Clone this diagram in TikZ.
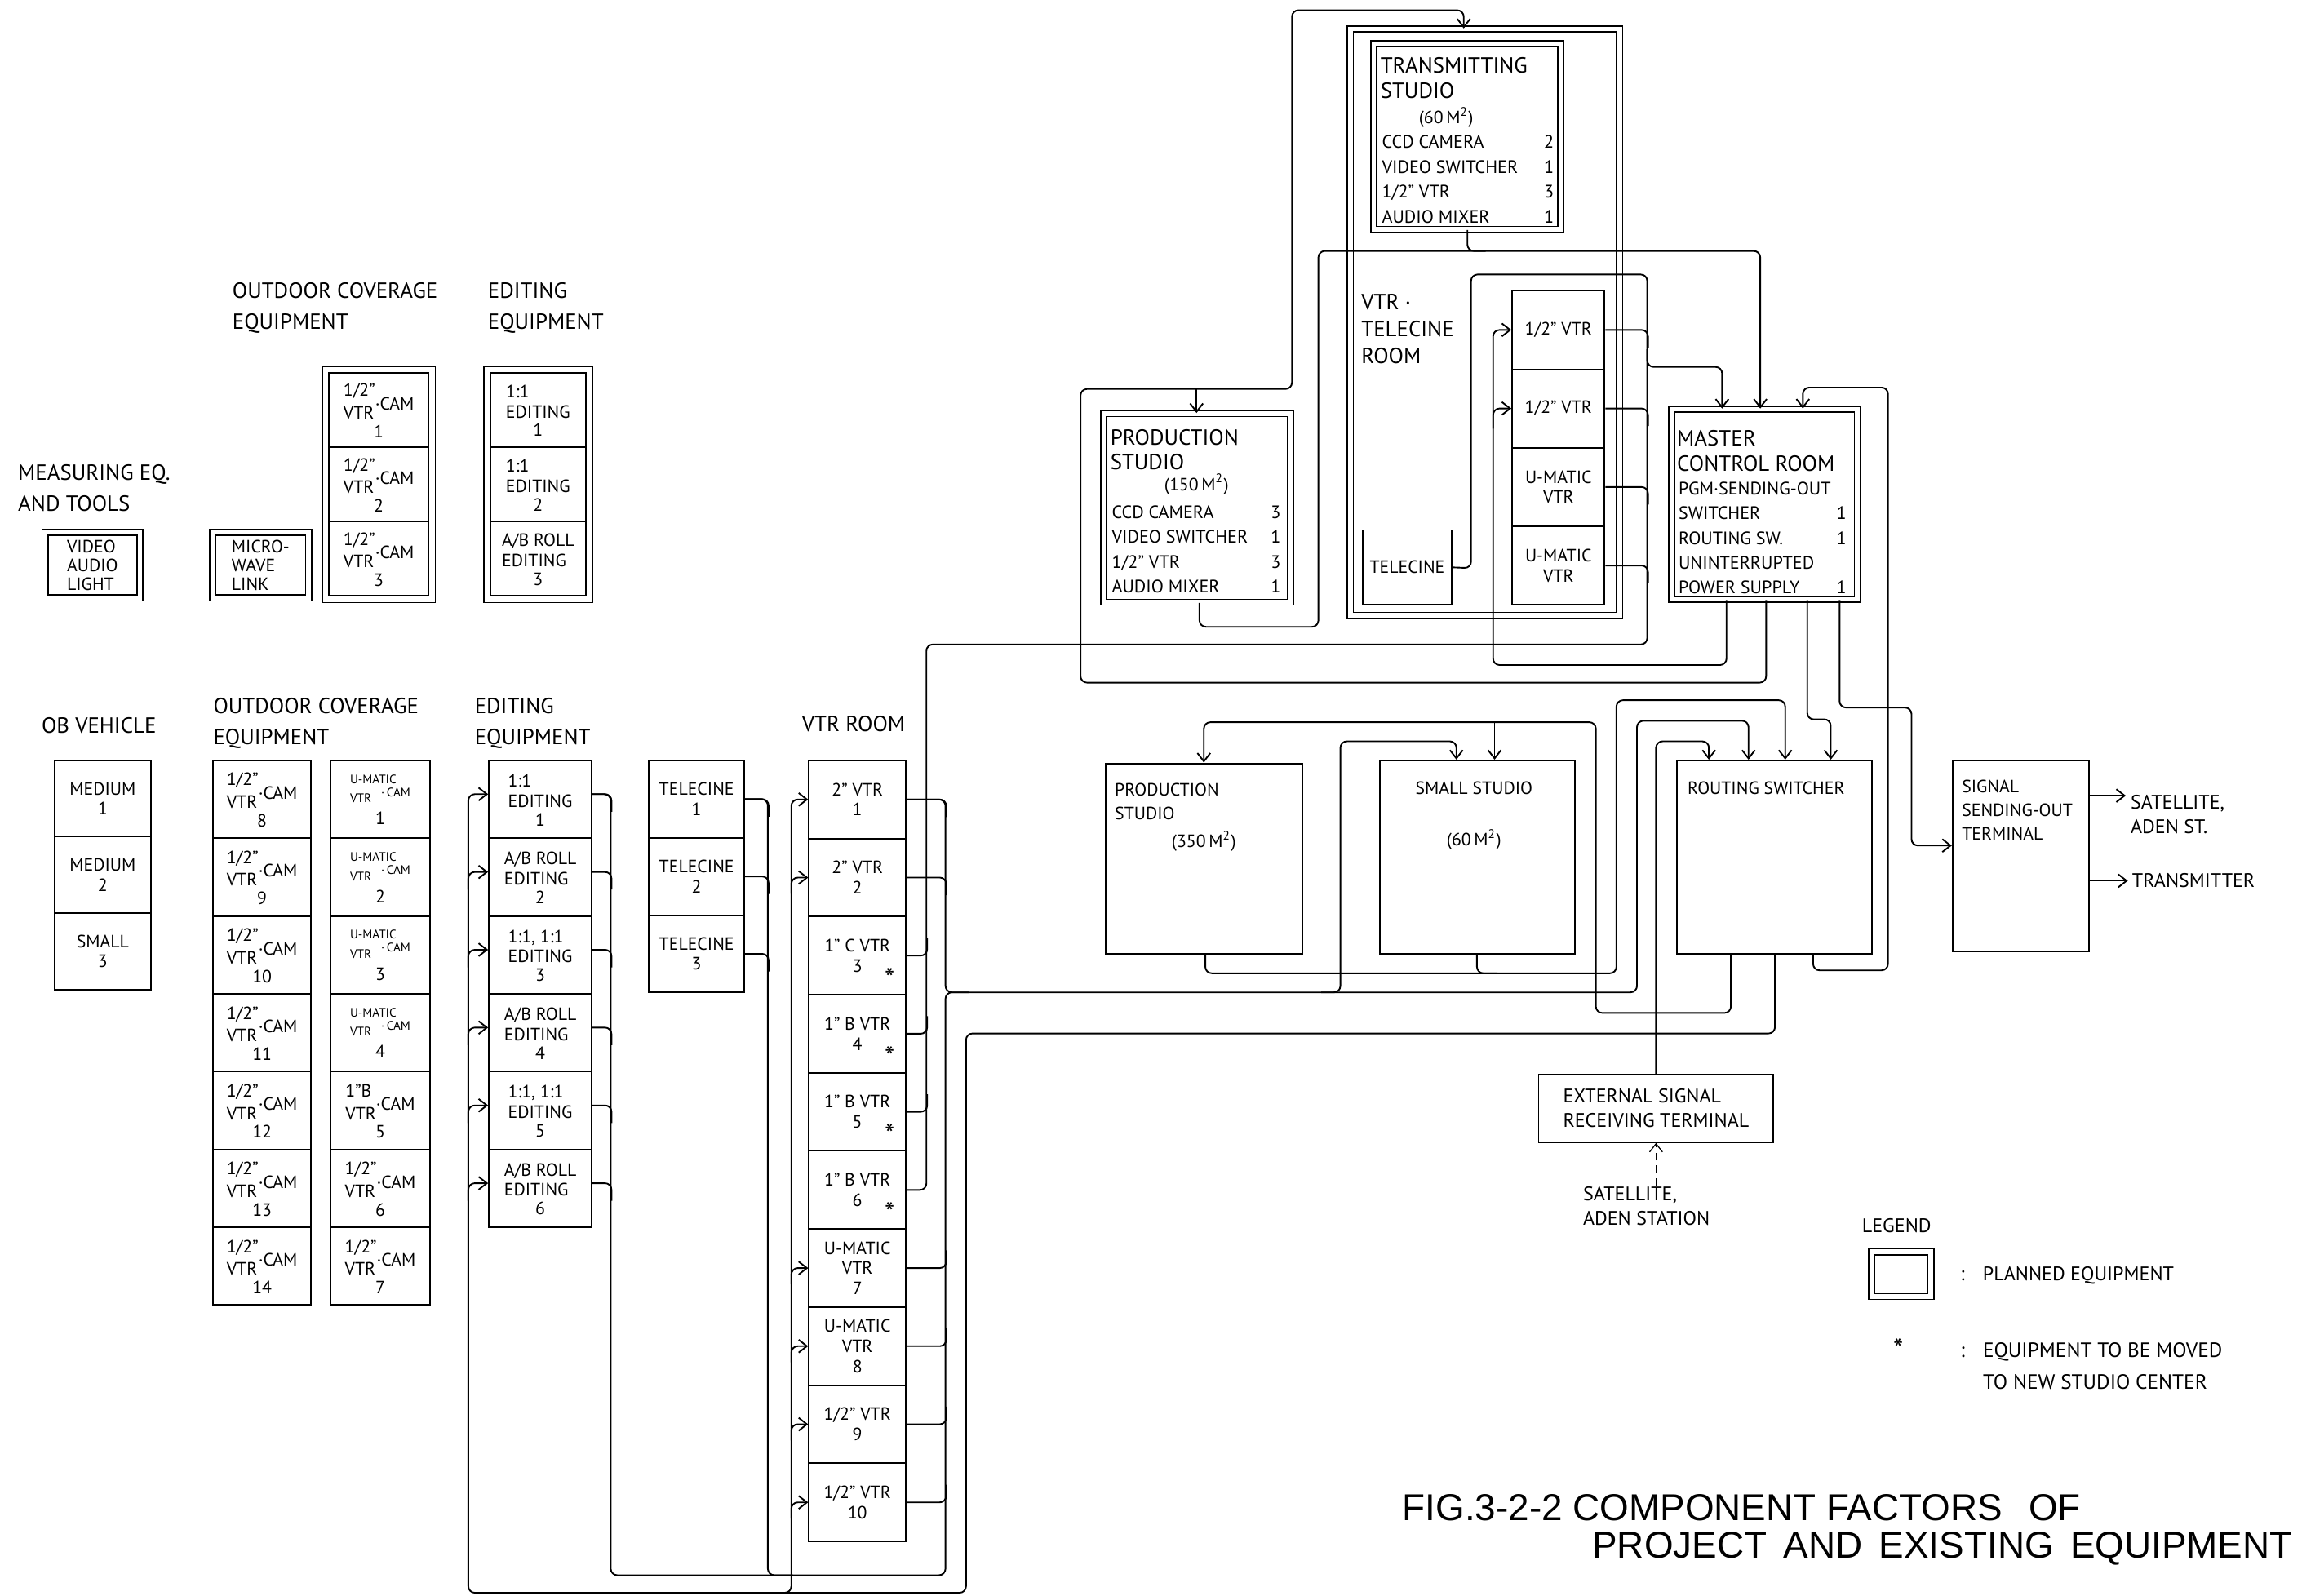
\documentclass[tikz,border=0pt]{standalone}
\usepackage{fontspec}
\setmainfont{PT Sans}
\newfontfamily\titlefont{Liberation Sans}
\usepackage{tikz}
\usetikzlibrary{arrows.meta,fit}
\newcommand\cellfont{\fontsize{6.9}{7.8}\selectfont}
\newcommand\headfont{\fontsize{8.5}{12.2}\selectfont}
\newcommand\boxfont{\fontsize{8.5}{9.6}\selectfont}
\newcommand\roomfont{\fontsize{8.5}{10.4}\selectfont}
\newcommand\tabfont{\fontsize{7}{9.6}\selectfont}
\newcommand\midfont{\fontsize{6.9}{9.2}\selectfont}
\newcommand\extfont{\fontsize{7.6}{9.6}\selectfont}
\newcommand\umfont{\fontsize{4.8}{5.3}\selectfont}
\newcommand\starfont{\fontsize{11}{11}\selectfont}
\newcommand\vcam[2]{\begin{tabular}{@{}l@{}l@{}}#1&\\[-2pt]VTR&\raisebox{3.5pt}{·CAM}\end{tabular}\\[-1pt]#2}
\newcommand\ucam[1]{{\umfont\begin{tabular}{@{}l@{}}U-MATIC\\VTR\hspace{0.8em}\raisebox{2.5pt}{·\,CAM}\end{tabular}}\\[1pt]#1}
\newcommand\edcell[2]{\begin{tabular}{@{}l@{}}#1\\EDITING\end{tabular}\\[-1pt]#2}
\newcommand\sqm[1]{(#1\,M\textsuperscript{2})}
\newcommand\studiotab[2]{\begin{tabular*}{#1}{@{}l@{\extracolsep{\fill}}r@{}}#2\end{tabular*}}

\begin{document}
\begin{tikzpicture}[x=0.02cm, y=-0.02cm,
  wire/.style={line width=0.6pt, rounded corners=2.5pt},
  feed/.style={wire, -{Straight Barb[length=3.2pt,width=5pt]}},
  cell/.style={draw, line width=0.6pt, inner sep=0pt, align=center, font=\cellfont},
  planned/.style={draw, double, double distance=1.8pt, line width=0.5pt},
  stackframe/.style={draw, line width=0.5pt, inner sep=0.08cm},
  head/.style={font=\headfont, align=left, inner sep=0pt, anchor=north west},
  note/.style={align=left, inner sep=0pt, anchor=north west}]
\useasboundingbox (0,0) rectangle (1568,1087);

% ---- planned measuring, outdoor and editing units
\node[head] (hdmeas) at (12,316) {MEASURING EQ.\\AND TOOLS};
\node[head] (hdocu) at (158,192) {OUTDOOR COVERAGE\\EQUIPMENT};
\node[head] (hdedu) at (332,192) {EDITING\\EQUIPMENT};
\node[cell, planned, align=left, font=\fontsize{6.9}{7.3}\selectfont, minimum width=1.29cm, minimum height=0.89cm] (meas) at (63,385)
  {VIDEO\\AUDIO\\LIGHT};
\node[cell, planned, align=left, font=\fontsize{6.9}{7.3}\selectfont, minimum width=1.31cm, minimum height=0.89cm] (mwl) at (177.5,385)
  {MICRO-\\WAVE\\LINK};
\foreach \i in {1,2,3}
  \node[cell, minimum width=1.36cm, minimum height=1.013cm] (ocu\i) at (258,{254+50.67*(\i-0.5)}) {\vcam{1/2”}{\i}};
\node[stackframe, fit=(ocu1)(ocu3)] (ocuframe) {};
\foreach \t [count=\i] in {{1:1},{1:1},{A/B ROLL}}
  \node[cell, minimum width=1.3cm, minimum height=1.013cm] (edu\i) at (366.5,{254+50.67*(\i-0.5)}) {\edcell{\t}{\i}};
\node[stackframe, fit=(edu1)(edu3)] (eduframe) {};

% ---- existing units
\node[head, anchor=west] (hdob) at (28,494) {OB VEHICLE};
\node[head] (hdocl) at (145,475) {OUTDOOR COVERAGE\\EQUIPMENT};
\node[head] (hdedl) at (323,475) {EDITING\\EQUIPMENT};
\node[head, anchor=west] (hdvtr) at (546,493) {VTR ROOM};
\foreach \t [count=\i] in {MEDIUM,MEDIUM,SMALL}
  \node[cell, minimum width=1.32cm, minimum height=1.04cm] (ob\i) at (70,{518+52*(\i-0.5)}) {\t\\\i};
\foreach \n [count=\i] in {8,...,14}
  \node[cell, minimum width=1.34cm, minimum height=1.06cm] (oca\i) at (178.5,{518+53*(\i-0.5)}) {\vcam{1/2”}{\n}};
\foreach \i in {1,...,4}
  \node[cell, minimum width=1.36cm, minimum height=1.06cm] (ocb\i) at (259,{518+53*(\i-0.5)}) {\ucam{\i}};
\node[cell, minimum width=1.36cm, minimum height=1.06cm] (ocb5) at (259,{518+53*4.5}) {\vcam{1”B}{5}};
\foreach \i in {6,7}
  \node[cell, minimum width=1.36cm, minimum height=1.06cm] (ocb\i) at (259,{518+53*(\i-0.5)}) {\vcam{1/2”}{\i}};
\foreach \t [count=\i] in {{1:1},{A/B ROLL},{1:1, 1:1},{A/B ROLL},{1:1, 1:1},{A/B ROLL}}
  \node[cell, minimum width=1.4cm, minimum height=1.06cm] (ed\i) at (368,{518+53*(\i-0.5)}) {\edcell{\t}{\i}};
\foreach \i in {1,2,3}
  \node[cell, minimum width=1.3cm, minimum height=1.054cm] (tc\i) at (474.5,{518+52.7*(\i-0.5)}) {TELECINE\\\i};
\foreach \t [count=\i] in {{2” VTR},{2” VTR},{1” C VTR},{1” B VTR},{1” B VTR},{1” B VTR},{U-MATIC\\VTR},{U-MATIC\\VTR},{1/2” VTR},{1/2” VTR}}
  \node[cell, minimum width=1.32cm, minimum height=1.064cm] (vtr\i) at (584,{518+53.2*(\i-0.5)}) {\t\\\i};
\foreach \i in {3,...,6}
  \node[font=\starfont, inner sep=0pt] (mv\i) at (606,{518+53.2*(\i-1)+42}) {*};

% ---- transmitting studio, VTR-telecine room, master control
\node[planned, minimum width=3.67cm, minimum height=7.99cm] (room) at (1011.5,219.5) {};
\node[planned, minimum width=2.55cm, minimum height=2.53cm] (trans) at (999.5,93) {};
\node[note, font=\boxfont] (transhd) at (940,39) {TRANSMITTING\\STUDIO};
\node[font=\cellfont, inner sep=0pt] (transarea) at (985,80) {\sqm{60}};
\node[note, font=\tabfont] (transtab) at (941,89)
  {\studiotab{2.34cm}{CCD CAMERA&2\\VIDEO SWITCHER&1\\1/2” VTR&3\\AUDIO MIXER&1}};
\node[note, font=\roomfont] (roomhd) at (927,200) {VTR ·\\TELECINE\\ROOM};
\node[cell, minimum width=1.22cm, minimum height=1.02cm] (tele) at (958.5,386.5) {TELECINE};
\foreach \t [count=\i] in {{1/2” VTR},{1/2” VTR},{U-MATIC\\VTR},{U-MATIC\\VTR}}
  \node[cell, minimum width=1.26cm, minimum height=1.07cm] (hv\i) at (1061.5,{198+53.5*(\i-0.5)}) {\t};

\node[planned, minimum width=2.55cm, minimum height=2.57cm] (ps1) at (815.5,346) {};
\node[note, font=\boxfont] (ps1hd) at (756,292) {PRODUCTION\\STUDIO};
\node[font=\cellfont, inner sep=0pt] (ps1area) at (815,330) {\sqm{150}};
\node[note, font=\tabfont] (ps1tab) at (757,341)
  {\studiotab{2.3cm}{CCD CAMERA&3\\VIDEO SWITCHER&1\\1/2” VTR&3\\AUDIO MIXER&1}};

\node[planned, minimum width=2.53cm, minimum height=2.59cm] (mcr) at (1202,343.5) {};
\node[note, font=\boxfont] (mcrhd) at (1142,293) {MASTER\\CONTROL ROOM};
\node[note, font=\tabfont] (mcrtab) at (1143,325)
  {\studiotab{2.28cm}{\multicolumn{2}{@{}l}{PGM·SENDING-OUT}\\SWITCHER&1\\ROUTING SW.&1\\\multicolumn{2}{@{}l}{UNINTERRUPTED}\\POWER SUPPLY&1}};

% ---- existing studios, routing, sending-out
\node[cell, minimum width=2.68cm, minimum height=2.6cm] (ps2) at (820,585) {};
\node[note, font=\midfont] (ps2hd) at (759,533) {PRODUCTION\\STUDIO};
\node[font=\midfont, inner sep=0pt] (ps2area) at (820,573) {\sqm{350}};
\node[cell, minimum width=2.66cm, minimum height=2.64cm] (ss) at (1006.5,584) {};
\node[font=\midfont, inner sep=0pt] (sshd) at (1004,537) {SMALL STUDIO};
\node[font=\midfont, inner sep=0pt] (ssarea) at (1004,572) {\sqm{60}};
\node[cell, minimum width=2.66cm, minimum height=2.64cm] (rsw) at (1208.5,584) {};
\node[font=\midfont, inner sep=0pt] (rswhd) at (1203,537) {ROUTING SWITCHER};
\node[cell, minimum width=1.86cm, minimum height=2.6cm] (sig) at (1376.5,583) {};
\node[note, font=\midfont] (sighd) at (1336,531) {SIGNAL\\SENDING-OUT\\TERMINAL};
\node[note, font=\extfont] (satout) at (1451,541) {SATELLITE,\\ADEN ST.};
\node[font=\extfont, anchor=west, inner sep=0pt] (txout) at (1452,600) {TRANSMITTER};
\node[cell, align=left, font=\extfont, minimum width=3.2cm, minimum height=0.92cm] (ext) at (1128,755)
  {EXTERNAL SIGNAL\\RECEIVING TERMINAL};
\node[note, font=\extfont] (extsrc) at (1078,808) {SATELLITE,\\ADEN STATION};

% ---- legend and caption
\node[font=\extfont, anchor=west, inner sep=0pt] (leghd) at (1268,835) {LEGEND};
\node[planned, minimum width=0.81cm, minimum height=0.61cm] (legbox) at (1295,868) {};
\node[font=\extfont, anchor=west, inner sep=0pt] (legplan) at (1335,869) {:\hspace{7pt}PLANNED EQUIPMENT};
\node[font=\starfont, inner sep=0pt] (legstar) at (1293,919) {*};
\node[note, font=\fontsize{8}{12.4}\selectfont] (legmove) at (1335,909)
  {\begin{tabular}{@{}l@{\hspace{7pt}}l@{}}:&EQUIPMENT TO BE MOVED\\&TO NEW STUDIO CENTER\end{tabular}};
\node[font=\titlefont\fontsize{14.5}{17}\selectfont, anchor=west, inner sep=0pt] (fig1) at (955,1027)
  {FIG.3-2-2 COMPONENT FACTORS\hspace{0.7em}OF};
\node[font=\titlefont\fontsize{14.5}{17}\selectfont, anchor=east, inner sep=0pt] (fig2) at (1562,1055)
  {PROJECT\, AND\, EXISTING\, EQUIPMENT};

% ---- master control feeds
\draw[feed] (1203,0 |- mcr.south) |- (736,465) |- (880,265) |- (997,7) -- (997,0 |- room.north);
\draw[feed] (815,265) -- (815,0 |- ps1.north);
\draw[feed] (1176,0 |- mcr.south) |- (1017,453) |- (hv1.west);
\draw[feed] (1017,292) |- (hv2.west);
\draw[feed] (1231,0 |- mcr.south) |- (1247,490) -- (1247,0 |- rsw.north);
\draw[feed] (1253,0 |- mcr.south) |- (1302,482) |- (sig.west |- 0,576);
\draw[feed] (sig.east |- 0,542) -- (1448,542);
\draw[feed] (sig.east |- txout.west) -- ([xshift=-1.5pt]txout.west);

% ---- feeds to master control
\draw[feed] (817,0 |- ps1.south) |- (898,427) |- (1199,171) -- (1199,0 |- mcr.north);
\draw[wire] (trans.south) |- (1012,171);
\draw[wire] (vtr6.east) -| (631,439) -| (1122,187) -| (1002,387) -- (tele.east);
\foreach \i in {3,4,5} \draw[wire] (vtr\i.east) -| ++(14,-12);
\foreach \i in {1,...,4} \draw[wire] (hv\i.east) -| ++(29,12);
\draw[feed] (1122,238) |- (1173,250) -- (1173,0 |- mcr.north);
\draw[feed] (1235,0 |- rsw.south) |- (1286,661) |- (1228,264) -- (1228,0 |- mcr.north);

% ---- studios and routing switcher
\draw[feed] (821,0 |- ps2.south) |- (1101,663) |- (1216,477) -- (1216,0 |- rsw.north);
\draw[wire] (1006,0 |- ss.south) |- (1020,663);
\draw[feed] (1179,0 |- rsw.south) |- (1087,690) |- (820,492) -- (820,0 |- ps2.north);
\draw[feed] (1018,492) -- (1018,0 |- ss.north);
\draw[feed] (ext.north) |- (1164,505) -- (1164,0 |- rsw.north);
\draw[feed, densely dashed, line width=0.4pt] (ext.south |- extsrc.north) -- (ext.south);

% ---- programme bus: editing, telecine, VTR room
\foreach \i in {1,...,6} \draw[wire] ([yshift=2pt]ed\i.east) -| ++(13,12);
\foreach \i in {1,2,3} \draw[wire] (tc\i.east) -| ++(16,12);
\foreach \i in {1,2} \draw[wire] (vtr\i.east) -| ++(27,12);
\foreach \i in {7,...,10} \draw[wire] (vtr\i.east) -| ++(27,-12);
\draw[wire] (tc1.east) -| (523,1073) -- (540,1073);
\draw[wire] (vtr1.east) -| (644,676) -- (660,676);
\draw[feed] ([yshift=2pt]ed1.east) -| (416,1073) -| (644,676) -| (1115,491) -| (1191,0 |- rsw.north);
\draw[feed] (900,676) -| (913,505) -| (992,0 |- ss.north);

% ---- routing switcher back to editing and VTR room
\draw[feed] (1209,0 |- rsw.south) |- (658,704) |- (319,1085) |- ([yshift=2pt]ed1.west);
\foreach \i in {2,...,6} \draw[feed] (319,{518+53*\i-18}) |- ([yshift=2pt]ed\i.west);
\draw[feed] (525,1085) -| (539,600) |- (vtr1.west);
\foreach \i in {2,7,8,9,10} \draw[feed] (539,{518+53.2*\i-15.6}) |- (vtr\i.west);
\end{tikzpicture}
\end{document}
